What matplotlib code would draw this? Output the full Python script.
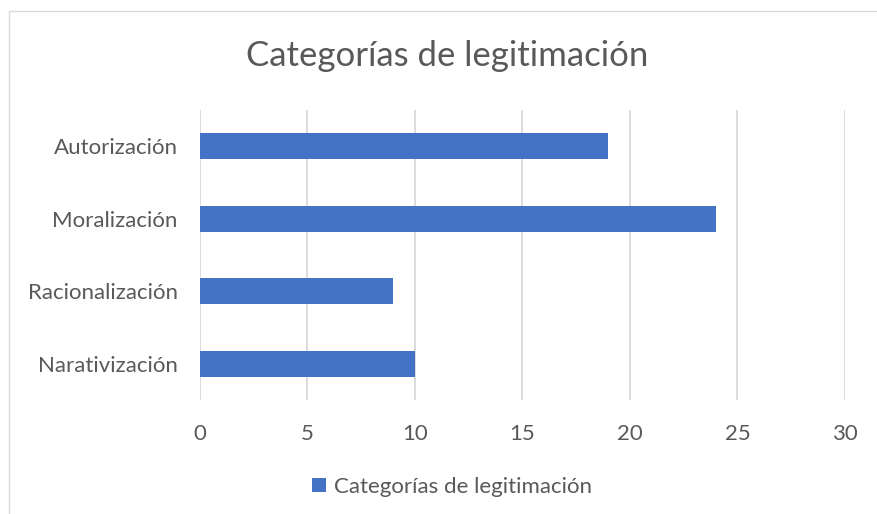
import matplotlib.pyplot as plt
from matplotlib.patches import Rectangle

plt.rcParams['font.family'] = ['Lato', 'DejaVu Sans']

# datos
categorias = ['Autorización', 'Moralización', 'Racionalización', 'Narativización']
valores = [19, 24, 9, 10]
serie = 'Categorías de legitimación'
titulo = 'Categorías de legitimación'
ticks_x = [0, 5, 10, 15, 20, 25, 30]

gris = '#595959'
azul = '#4472C4'

fig = plt.figure(figsize=(8.78, 5.14), dpi=100)
# borde del gráfico
fig.patches.append(Rectangle((9 / 878, -0.01), 1.0, 1 - 11 / 514 + 0.01,
                             transform=fig.transFigure, fill=False,
                             edgecolor='#d9d9d9', linewidth=1.0))

ax = fig.add_axes([200 / 878, 1 - 400 / 514, 645 / 878, 290 / 514])
pos = list(range(len(categorias)))[::-1]
ax.barh(pos, valores, height=0.36, color=azul, label=serie, zorder=3)

ax.set_xlim(0, 30)
ax.set_ylim(-0.5, 3.5)
ax.set_xticks(ticks_x)
ax.set_yticks(pos)
ax.set_yticklabels(categorias)
ax.grid(axis='x', color='#d9d9d9', linewidth=1.3, zorder=0)
for s in ax.spines.values():
    s.set_visible(False)
ax.tick_params(length=0, labelsize=16, colors=gris)
ax.tick_params(axis='y', pad=16)
ax.tick_params(axis='x', pad=17)

fig.text(447 / 878, 1 - 56 / 514, titulo, ha='center', va='center',
         fontsize=25, color=gris)

fig.legend(loc='center', bbox_to_anchor=(452 / 878, 1 - 487 / 514),
           frameon=False, fontsize=16, labelcolor=gris,
           handlelength=0.6, handleheight=0.6, handletextpad=0.35)

fig.savefig('out.png', dpi=100)
